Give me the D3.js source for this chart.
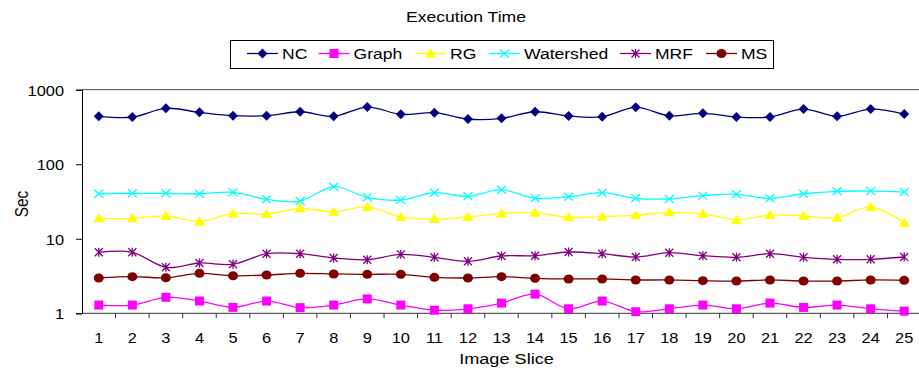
<!DOCTYPE html>
<html><head><meta charset="utf-8">
<script src="https://cdn.jsdelivr.net/npm/d3@7"></script>
<style>body{margin:0;background:#fff}svg{display:block;font-family:"Liberation Sans",Arial,sans-serif}</style>
</head><body><svg id="c" width="919" height="368"></svg>
<script>
const slices = d3.range(1, 26).map(String);
const yTicks = [1, 10, 100, 1000];
const seriesNames = ["NC", "Graph", "RG", "Watershed", "MRF", "MS"];
const NC = [439,430,562,497,448,448,506,439,585,467,491,404,413,506,443,434,580,448,482,430,430,550,439,550,471];
const Graph = [1.29,1.29,1.64,1.46,1.20,1.46,1.19,1.29,1.56,1.29,1.10,1.15,1.37,1.81,1.15,1.46,1.05,1.15,1.29,1.15,1.37,1.20,1.29,1.15,1.07];
const RG = [18.8,18.8,20.2,17.1,21.9,21.5,25.6,23.1,26.7,19.6,18.4,19.6,21.9,22.4,19.4,19.8,20.6,22.6,21.6,17.9,20.8,20.2,19.2,26.7,16.4];
const Watershed = [40.2,40.7,40.7,40.2,42.0,33.8,32.1,49.9,36.0,33.1,41.5,37.1,45.5,34.9,36.6,41.5,34.9,34.2,37.9,39.5,34.9,40.2,43.3,43.6,42.3];
const MRF = [6.58,6.58,4.14,4.73,4.54,6.3,6.3,5.52,5.24,6.18,5.64,4.98,5.87,5.93,6.64,6.3,5.69,6.5,5.93,5.64,6.3,5.64,5.3,5.3,5.69];
const MS = [2.98,3.10,3.00,3.44,3.19,3.26,3.44,3.37,3.33,3.33,3.04,2.98,3.10,2.95,2.89,2.89,2.80,2.80,2.74,2.71,2.80,2.71,2.71,2.80,2.77];
const colors = ["#000080","#FF00FF","#FFFF00","#00FFFF","#800080","#800000"];
const markers = ["diamond","square","triangle","x","asterisk","circle"];
const values = [NC, Graph, RG, Watershed, MRF, MS];

const SX = 1.17; // horizontal text stretch of the original picture
const svg = d3.select("#c");
const L = 82, R = 921, T = 89.7, B = 313.3;
const x = d3.scaleBand().domain(slices).range([L, R]);
const y = d3.scaleLog().domain([1, 1000]).range([B, T]);

function txt(g, tx, ty, s, size, anchor) {
  return g.append("text").attr("transform", `translate(${tx},${ty}) scale(${SX},1)`)
    .attr("text-anchor", anchor || "start").attr("font-size", size).attr("fill", "#000").text(s);
}

// title
txt(svg, 466, 22, "Execution Time", 15, "middle");

// plot border top
svg.append("line").attr("x1",L).attr("x2",919).attr("y1",T).attr("y2",T).attr("stroke","#444").attr("stroke-width",1);

// y axis (ticks via d3 axis, labels as stretched text)
const yAxis = d3.axisLeft(y).tickValues(yTicks).tickFormat("").tickSize(6);
const gy = svg.append("g").attr("transform",`translate(${L},0)`).call(yAxis);
gy.select(".domain").attr("stroke","#000");
gy.selectAll(".tick line").attr("stroke","#000");
yTicks.forEach(t => txt(svg, 64, y(t) + 6, d3.format("d")(t), 14, "end"));

// x axis
const xAxis = d3.axisBottom(x).tickSize(0).tickFormat("");
const gx = svg.append("g").attr("transform",`translate(0,${B})`).call(xAxis);
gx.select(".domain").attr("stroke","#333").attr("d",`M${L},0H919`);
gx.selectAll(".bt").data(slices.slice(1)).enter().append("line")
  .attr("x1",d=>x(d)).attr("x2",d=>x(d)).attr("y1",0).attr("y2",5).attr("stroke","#333");
slices.forEach(s => txt(svg, x(s) + x.bandwidth()/2, 343, s, 14, "middle"));

txt(svg, (L + R)/2 + 5, 364, "Image Slice", 15.5, "middle");
svg.append("text").attr("transform",`translate(28,204) scale(${SX},1) rotate(-90)`)
  .attr("text-anchor","middle").attr("font-size",15.5).text("Sec");

function drawMarker(g, type, color, cx, cy) {
  if (type === "diamond") {
    g.append("path").attr("d",`M${cx},${cy-5}L${cx+5},${cy}L${cx},${cy+5}L${cx-5},${cy}Z`).attr("fill",color);
  } else if (type === "square") {
    g.append("rect").attr("x",cx-4.5).attr("y",cy-4.5).attr("width",9).attr("height",9).attr("fill",color);
  } else if (type === "triangle") {
    g.append("path").attr("d",`M${cx},${cy-5.5}L${cx+5.5},${cy+4}L${cx-5.5},${cy+4}Z`).attr("fill",color);
  } else if (type === "x") {
    g.append("path").attr("d",`M${cx-4.5},${cy-4}L${cx+4.5},${cy+4}M${cx-4.5},${cy+4}L${cx+4.5},${cy-4}`).attr("stroke",color).attr("stroke-width",1.3);
  } else if (type === "asterisk") {
    g.append("path").attr("d",`M${cx-4},${cy-4}L${cx+4},${cy+4}M${cx-4},${cy+4}L${cx+4},${cy-4}M${cx},${cy-4.5}L${cx},${cy+4.5}`).attr("stroke",color).attr("stroke-width",1.3);
  } else if (type === "circle") {
    g.append("ellipse").attr("cx",cx).attr("cy",cy).attr("rx",5).attr("ry",4.5).attr("fill",color);
  }
}

const line = d3.line().x((d,i)=>x(slices[i]) + x.bandwidth()/2).y(d=>y(d)).curve(d3.curveCatmullRom.alpha(0));
values.forEach((vals, s) => {
  const g = svg.append("g");
  g.append("path").datum(vals).attr("d", line).attr("fill","none").attr("stroke",colors[s]).attr("stroke-width",1.3);
  vals.forEach((v,i)=> drawMarker(g, markers[s], colors[s], x(slices[i]) + x.bandwidth()/2, y(v)));
});

// legend
const lg = svg.append("g");
lg.append("rect").attr("x",230.5).attr("y",40.5).attr("width",543).attr("height",28).attr("fill","#fff").attr("stroke","#000");
const legendX = [247, 318.5, 415, 489, 620, 706];
seriesNames.forEach((n, s) => {
  const lx = legendX[s], w = 31, ly = 53.5;
  lg.append("line").attr("x1",lx).attr("x2",lx+w).attr("y1",ly).attr("y2",ly).attr("stroke",colors[s]).attr("stroke-width",1.3);
  drawMarker(lg, markers[s], colors[s], lx + w/2, ly);
  txt(lg, lx + w + 4, 58.5, n, 15, "start");
});
</script></body></html>
